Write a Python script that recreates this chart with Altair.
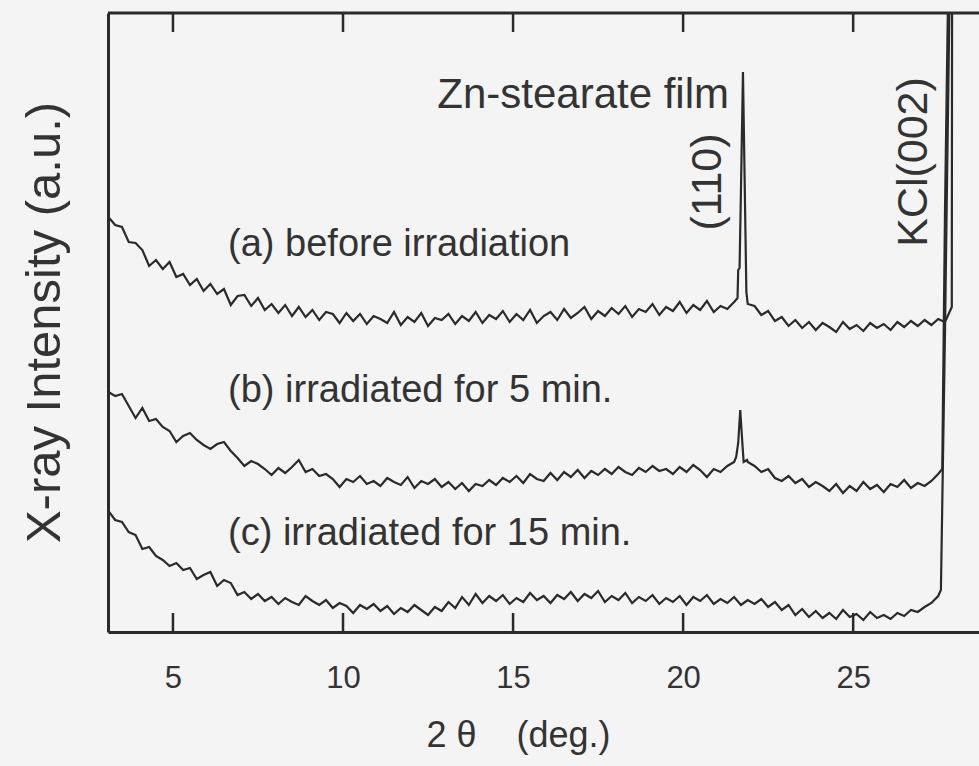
import altair as alt
import pandas as pd

# 2-theta scan grid (deg.)
TWO_THETA = [3.1, 3.3, 3.5, 3.7, 3.9, 4.1, 4.3, 4.5, 4.7, 4.9,
             5.1, 5.3, 5.5, 5.7, 5.9, 6.1, 6.3, 6.5, 6.7, 6.9,
             7.1, 7.3, 7.5, 7.7, 7.9, 8.1, 8.3, 8.5, 8.7, 8.9,
             9.1, 9.3, 9.5, 9.7, 9.9, 10.1, 10.3, 10.5, 10.7, 10.9,
             11.1, 11.3, 11.5, 11.7, 11.9, 12.1, 12.3, 12.5, 12.7, 12.9,
             13.1, 13.3, 13.5, 13.7, 13.9, 14.1, 14.3, 14.5, 14.7, 14.9,
             15.1, 15.3, 15.5, 15.7, 15.9, 16.1, 16.3, 16.5, 16.7, 16.9,
             17.1, 17.3, 17.5, 17.7, 17.9, 18.1, 18.3, 18.5, 18.7, 18.9,
             19.1, 19.3, 19.5, 19.7, 19.9, 20.1, 20.3, 20.5, 20.7, 20.9,
             21.1, 21.3, 21.5, 21.7, 21.9, 22.1, 22.3, 22.5, 22.7, 22.9,
             23.1, 23.3, 23.5, 23.7, 23.9, 24.1, 24.3, 24.5, 24.7, 24.9,
             25.1, 25.3, 25.5, 25.7, 25.9, 26.1, 26.3, 26.5, 26.7, 26.9,
             27.1, 27.3, 27.5, 27.7, 27.9]

# (a) before irradiation
INT_A = [415, 407, 405, 390, 389, 382, 366, 372, 363, 370,
         355, 358, 347, 353, 341, 348, 338, 343, 327, 336,
         337, 326, 334, 322, 328, 319, 327, 316, 325, 315,
         322, 312, 320, 318, 309, 319, 311, 318, 308, 316,
         313, 309, 320, 307, 315, 310, 319, 306, 314, 312,
         318, 308, 316, 311, 320, 309, 317, 313, 321, 310,
         318, 312, 322, 309, 316, 320, 312, 323, 314, 319,
         325, 313, 321, 316, 324, 318, 326, 315, 323, 320,
         328, 317, 325, 321, 330, 319, 327, 322, 331, 320,
         326, 323, 330, 440, 328, 326, 317, 321, 311, 315,
         306, 312, 304, 310, 302, 309, 305, 300, 310, 303,
         307, 301, 309, 304, 308, 302, 310, 305, 311, 306,
         312, 307, 313, 310, 325]
PEAK_A_X = [21.6, 21.62, 21.66, 21.76, 21.86, 28.0]
PEAK_A_I = [334, 362, 364, 560, 340, 4000]

# (b) irradiated for 5 min.
INT_B = [240, 236, 238, 226, 214, 224, 211, 213, 205, 201,
         190, 196, 199, 192, 187, 183, 188, 190, 181, 174,
         166, 171, 168, 163, 157, 164, 159, 165, 172, 160,
         163, 156, 158, 153, 145, 153, 150, 156, 148, 151,
         146, 154, 150, 147, 155, 144, 151, 148, 153, 145,
         150, 143, 149, 141, 148, 146, 152, 147, 154, 150,
         156, 149, 158, 153, 151, 159, 152, 160, 155, 162,
         154, 161, 157, 163, 158, 165, 160, 157, 164, 160,
         166, 161, 163, 158, 165, 160, 167, 162, 155, 163,
         160, 166, 170, 211, 170, 166, 160, 163, 154, 151,
         156, 149, 153, 145, 150, 146, 141, 148, 139, 146,
         141, 150, 143, 147, 140, 148, 145, 152, 144, 149,
         146, 151, 158, 420, 900]
PEAK_B_X = [21.56, 21.62, 21.68, 21.74, 21.78, 21.88, 27.62, 28.0]
PEAK_B_I = [175, 189, 222, 190, 170, 172, 163, 4000]

# (c) irradiated for 15 min.
INT_C = [121, 112, 110, 100, 97, 83, 85, 76, 72, 66,
         69, 62, 64, 53, 57, 60, 46, 52, 49, 37,
         40, 33, 38, 31, 35, 28, 34, 30, 27, 36,
         31, 27, 32, 24, 29, 26, 19, 27, 23, 28,
         21, 26, 18, 24, 20, 27, 22, 17, 25, 21,
         30, 24, 35, 27, 38, 29, 36, 31, 37, 28,
         34, 30, 39, 32, 36, 29, 37, 33, 40, 31,
         38, 34, 41, 30, 36, 32, 39, 29, 35, 31,
         37, 28, 34, 30, 36, 27, 35, 31, 37, 28,
         33, 29, 35, 27, 32, 28, 33, 25, 30, 22,
         27, 17, 23, 15, 21, 14, 19, 13, 22, 15,
         18, 12, 20, 14, 17, 13, 19, 16, 22, 20,
         25, 29, 36, 300, 800]
PEAK_C_X = [27.58, 28.0]
PEAK_C_I = [42, 4000]

TICK_VALUES = [5, 10, 15, 20, 25]

LABEL_TEXT = ["(a) before irradiation", "(b) irradiated for 5 min.",
              "(c) irradiated for 15 min."]
LABEL_X = [6.62, 6.62, 6.62]
LABEL_Y = [387, 241, 98]

PEAK_TEXT = ["(110)", "KCl(002)"]
PEAK_TEXT_X = [20.74, 26.79]
PEAK_TEXT_Y = [450, 470]

FILM_TEXT = ["Zn-stearate film"]
FILM_X = [21.35]
FILM_Y = [524]

FONT = "Liberation Sans"
INK = "#2a2a2a"
TXT = "#333333"

W, H = 871, 619
X_MIN, X_MAX = 3.09, 28.7
Y_MIN, Y_MAX = 0, 619
TICK_LEN = 19

rows = []
for name, xs, ys in [("a", TWO_THETA + PEAK_A_X, INT_A + PEAK_A_I),
                     ("b", TWO_THETA + PEAK_B_X, INT_B + PEAK_B_I),
                     ("c", TWO_THETA + PEAK_C_X, INT_C + PEAK_C_I)]:
    for x, y in zip(xs, ys):
        rows.append({"curve": name, "theta": x, "intensity": y})
df = pd.DataFrame(rows)

xscale = alt.Scale(domain=[X_MIN, X_MAX], nice=False, zero=False)
yscale = alt.Scale(domain=[Y_MIN, Y_MAX], nice=False, zero=False)

NB = "\u00a0"
AX_X = alt.Axis(values=TICK_VALUES, ticks=False, tickSize=0, grid=False,
                domainColor=INK, domainWidth=3,
                labelFont=FONT, labelFontSize=31, labelColor=TXT,
                labelPadding=46, labelBaseline="middle",
                title="2" + NB + "θ" + NB * 4 + "(deg.)",
                titleFont=FONT, titleFontSize=36,
                titleFontWeight="normal", titleColor=TXT,
                titleX=410, titleY=103, titleBaseline="middle",
                titleAlign="center")
AX_Y = alt.Axis(ticks=False, labels=False, grid=False, tickSize=0,
                domainColor=INK, domainWidth=3,
                title="X-ray Intensity (a.u.)", titleFont=FONT,
                titleFontSize=49, titleFontWeight="normal",
                titleColor=TXT, titleX=-64, titleY=309,
                titleBaseline="middle", titleAlign="center",
                titleAngle=270)

lines = alt.Chart(df).mark_line(clip=True, strokeWidth=2.2, color=INK).encode(
    x=alt.X("theta:Q", scale=xscale, axis=AX_X),
    y=alt.Y("intensity:Q", scale=yscale, axis=AX_Y),
    detail="curve:N")

# inward tick marks on the bottom and top frame (data positions through the scales)
tick_rows = []
for t in TICK_VALUES:
    tick_rows.append({"theta": t, "lo": Y_MIN, "hi": Y_MIN + TICK_LEN})
    tick_rows.append({"theta": t, "lo": Y_MAX - TICK_LEN, "hi": Y_MAX})
ticks = alt.Chart(pd.DataFrame(tick_rows)).mark_rule(
    color=INK, strokeWidth=2.5).encode(
    x=alt.X("theta:Q", scale=xscale, axis=None),
    y=alt.Y("lo:Q", scale=yscale, axis=None),
    y2="hi:Q")

# top frame line
border_df = pd.DataFrame({"x0": [X_MIN], "x1": [X_MAX], "ytop": [Y_MAX]})
top_border = alt.Chart(border_df).mark_rule(color=INK, strokeWidth=3).encode(
    x=alt.X("x0:Q", scale=xscale, axis=None),
    x2="x1:Q",
    y=alt.Y("ytop:Q", scale=yscale, axis=None))

labels_df = pd.DataFrame({"text": LABEL_TEXT, "theta": LABEL_X, "intensity": LABEL_Y})
labels = alt.Chart(labels_df).mark_text(
    align="left", baseline="middle", font=FONT, fontSize=38, color=TXT).encode(
    x=alt.X("theta:Q", scale=xscale, axis=None),
    y=alt.Y("intensity:Q", scale=yscale, axis=None),
    text="text:N")

peak_df = pd.DataFrame({"text": PEAK_TEXT, "theta": PEAK_TEXT_X, "intensity": PEAK_TEXT_Y})
peak_labels = alt.Chart(peak_df).mark_text(
    align="center", baseline="middle", angle=270, font=FONT, fontSize=43,
    color=TXT).encode(
    x=alt.X("theta:Q", scale=xscale, axis=None),
    y=alt.Y("intensity:Q", scale=yscale, axis=None),
    text="text:N")

film_df = pd.DataFrame({"text": FILM_TEXT, "theta": FILM_X, "intensity": FILM_Y})
film_label = alt.Chart(film_df).mark_text(
    align="right", baseline="alphabetic", font=FONT, fontSize=42,
    color=TXT).encode(
    x=alt.X("theta:Q", scale=xscale, axis=None),
    y=alt.Y("intensity:Q", scale=yscale, axis=None),
    text="text:N")

chart = alt.layer(
    lines, ticks, top_border, labels, peak_labels, film_label
).resolve_axis(x="independent", y="independent").properties(
    width=W, height=H,
    autosize=alt.AutoSizeParams(type="none"),
    padding={"left": 108, "top": 13, "right": 0, "bottom": 134},
    background="#f4f4f4",
).configure_view(stroke=None)

chart.save("out.html", embed_options={"renderer": "svg", "actions": False})
